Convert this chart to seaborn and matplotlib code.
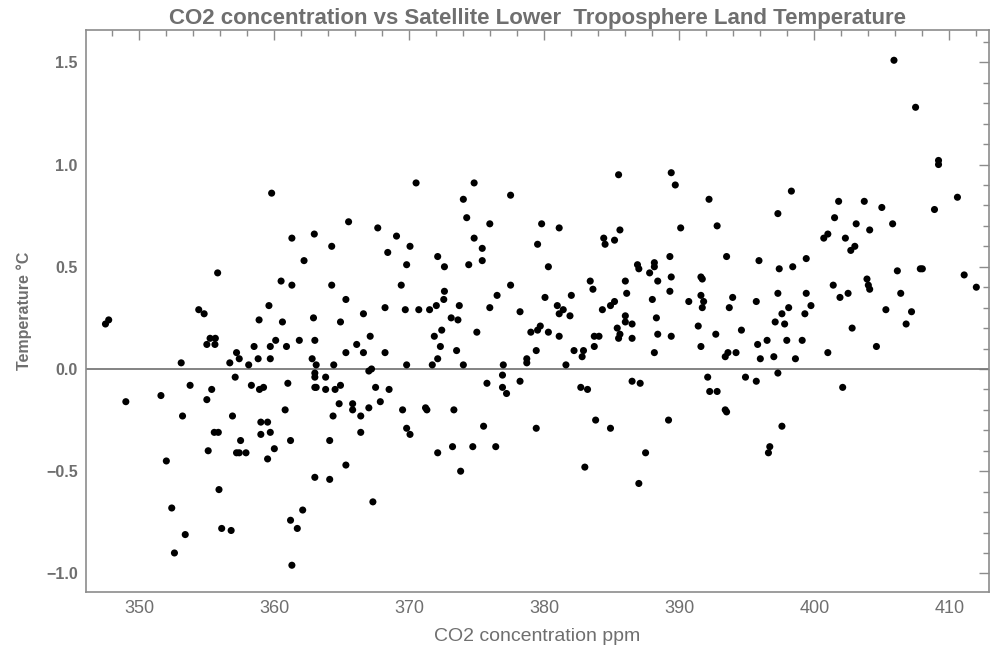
import matplotlib
matplotlib.use("Agg")
import matplotlib.pyplot as plt
import seaborn as sns
import pandas as pd
from matplotlib.ticker import MultipleLocator

# Monthly CO2 concentration (ppm) against lower-troposphere land temperature anomaly (°C)
co2_ppm = [
    359.8, 365.5, 370.5, 374.8, 374.0, 377.5, 374.25, 385.5, 389.4, 389.7,
    405.9, 407.5, 409.2, 409.2, 392.2, 398.3, 397.3, 401.8, 403.7, 401.5,
    405.0, 408.9, 410.6,
    347.49, 347.73, 349.0, 351.6, 353.1, 353.76, 354.4, 354.8, 355.0, 355.24,
    355.63, 355.6, 355.0, 355.36, 355.8, 356.7, 357.1, 357.2, 357.4, 358.1,
    358.3, 358.5, 358.8, 358.87, 358.9, 359.2, 359.6, 359.7, 359.7, 360.1,
    360.5, 360.6, 360.8, 360.9, 361.0, 361.3, 361.3, 361.85, 362.2, 362.8,
    362.9, 362.96, 363.0, 363.1, 363.0, 363.0, 363.0, 363.1, 363.8, 363.8,
    364.25, 364.25, 364.4, 364.5, 364.8, 364.9, 364.9, 365.3, 365.3, 365.8,
    365.8, 366.1, 366.6, 366.6, 367.0, 367.2, 367.1, 367.0, 367.66, 367.85,
    367.5, 368.2, 368.2, 368.4, 368.5,
    369.05, 370.05, 369.8, 369.4, 369.7, 370.7, 371.5, 372.0, 372.1, 372.6,
    372.6, 372.55, 373.7, 373.1, 373.6, 372.4, 371.85, 372.3, 373.5, 372.1,
    371.7, 369.8, 374.0, 375.96, 374.8, 375.4, 375.4, 374.4, 377.5, 376.5,
    375.96, 378.2, 375.0, 376.96, 376.9, 375.75, 376.9, 377.2, 378.2, 378.7,
    378.7, 369.5, 371.2, 371.3, 373.3, 379.8, 381.1, 379.5, 380.3, 380.05,
    380.96, 381.4, 381.1, 381.9, 382.0, 379.0, 379.5, 379.7, 380.3, 381.1,
    379.4, 381.6, 382.2, 382.9, 382.8, 382.7, 383.2, 383.4, 383.6, 384.3,
    383.7, 384.05, 383.7, 384.4, 384.5, 385.2, 385.6, 384.9, 385.2, 386.0,
    386.1, 386.0, 386.0, 385.4, 385.6, 385.5, 386.5, 386.5, 386.9, 387.0,
    388.15, 388.15, 387.8, 388.4, 388.0, 388.3, 388.4, 388.15, 389.3, 389.4,
    389.3, 389.4, 390.1, 386.5, 387.1,
    390.7, 392.8, 393.5, 395.9, 391.6, 391.7, 391.6, 391.8, 391.7, 391.4,
    391.6, 392.7, 393.95, 393.7, 394.6, 393.4, 393.6, 394.2, 395.7, 395.8,
    396.0, 396.5, 397.0, 397.1, 397.3, 397.4, 397.3, 397.6, 397.8, 398.1,
    397.96, 398.4, 398.6, 399.1, 399.3, 399.4, 399.75, 399.4, 400.7, 401.0,
    401.4, 401.0, 401.9, 402.5, 402.3, 403.0, 402.7, 403.1, 404.1, 405.8,
    402.8, 402.1, 403.9, 404.0, 404.1, 404.6, 405.3, 406.15, 406.4, 406.8,
    407.2, 407.85, 408.0, 411.1, 412.0, 392.1, 392.25, 392.8, 394.9, 395.7,
    393.4, 393.5,
    353.2, 352.0, 352.4, 353.4, 352.6, 355.1, 355.55, 355.85, 356.9, 357.5,
    357.2, 357.4, 357.9, 355.9, 356.1, 356.8, 359.0, 359.5, 359.0, 359.7,
    360.0, 359.5, 361.2, 361.2, 361.7, 362.1, 361.3, 363.0, 364.1, 364.1,
    364.35, 365.3, 366.4, 366.4, 367.3,
    369.8, 370.05, 372.1, 373.2, 373.8, 374.7, 375.5, 376.4, 379.4, 383.0,
    383.8, 384.9, 387.0, 387.5, 389.2, 397.6, 396.7, 396.6,
]

temp_c = [
    0.86, 0.72, 0.91, 0.91, 0.83, 0.85, 0.74, 0.95, 0.96, 0.90,
    1.51, 1.28, 1.02, 1.00, 0.83, 0.87, 0.76, 0.82, 0.82, 0.74,
    0.79, 0.78, 0.84,
    0.22, 0.24, -0.16, -0.13, 0.03, -0.08, 0.29, 0.27, 0.12, 0.15,
    0.15, 0.12, -0.15, -0.10, 0.47, 0.03, -0.04, 0.08, 0.05, 0.02,
    -0.08, 0.11, 0.05, 0.24, -0.10, -0.09, 0.31, 0.11, 0.05, 0.14,
    0.43, 0.23, -0.20, 0.11, -0.07, 0.64, 0.41, 0.14, 0.53, 0.05,
    0.25, 0.66, 0.14, 0.02, -0.02, -0.04, -0.09, -0.09, -0.04, -0.10,
    0.60, 0.41, 0.02, -0.10, -0.17, 0.23, -0.08, 0.08, 0.34, -0.17,
    -0.20, 0.12, 0.27, 0.08, -0.01, 0.00, 0.16, -0.19, 0.69, -0.16,
    -0.09, 0.30, 0.08, 0.57, -0.10,
    0.65, 0.60, 0.51, 0.41, 0.29, 0.29, 0.29, 0.31, 0.55, 0.50,
    0.38, 0.34, 0.31, 0.25, 0.24, 0.19, 0.16, 0.11, 0.09, 0.05,
    0.02, 0.02, 0.02, 0.71, 0.64, 0.59, 0.53, 0.51, 0.41, 0.36,
    0.30, 0.28, 0.18, 0.02, -0.03, -0.07, -0.09, -0.12, -0.06, 0.05,
    0.03, -0.20, -0.19, -0.20, -0.20, 0.71, 0.69, 0.61, 0.50, 0.35,
    0.31, 0.29, 0.27, 0.26, 0.36, 0.18, 0.19, 0.21, 0.18, 0.16,
    0.09, 0.02, 0.09, 0.09, 0.06, -0.09, -0.10, 0.43, 0.39, 0.29,
    0.16, 0.16, 0.11, 0.64, 0.61, 0.63, 0.68, 0.31, 0.33, 0.43,
    0.37, 0.26, 0.23, 0.20, 0.17, 0.15, 0.22, 0.15, 0.51, 0.49,
    0.52, 0.50, 0.47, 0.43, 0.34, 0.25, 0.17, 0.08, 0.55, 0.45,
    0.38, 0.16, 0.69, -0.06, -0.07,
    0.33, 0.70, 0.55, 0.53, 0.45, 0.44, 0.36, 0.33, 0.30, 0.21,
    0.11, 0.17, 0.35, 0.30, 0.19, 0.06, 0.08, 0.08, 0.33, 0.12,
    0.05, 0.14, 0.06, 0.23, 0.37, 0.49, -0.02, 0.27, 0.22, 0.30,
    0.14, 0.50, 0.05, 0.14, 0.27, 0.37, 0.31, 0.54, 0.64, 0.66,
    0.41, 0.08, 0.35, 0.37, 0.64, 0.60, 0.58, 0.71, 0.68, 0.71,
    0.20, -0.09, 0.44, 0.41, 0.39, 0.11, 0.29, 0.48, 0.37, 0.22,
    0.28, 0.49, 0.49, 0.46, 0.40, -0.04, -0.11, -0.11, -0.04, -0.06,
    -0.20, -0.21,
    -0.23, -0.45, -0.68, -0.81, -0.90, -0.40, -0.31, -0.31, -0.23, -0.35,
    -0.41, -0.41, -0.41, -0.59, -0.78, -0.79, -0.26, -0.26, -0.32, -0.31,
    -0.39, -0.44, -0.35, -0.74, -0.78, -0.69, -0.96, -0.53, -0.35, -0.54,
    -0.23, -0.47, -0.23, -0.31, -0.65,
    -0.29, -0.32, -0.41, -0.38, -0.50, -0.38, -0.28, -0.38, -0.29, -0.48,
    -0.25, -0.29, -0.56, -0.41, -0.25, -0.28, -0.38, -0.41,
]

x_major = [350, 360, 370, 380, 390, 400, 410]
y_major = [-1.0, -0.5, 0.0, 0.5, 1.0, 1.5]

sns.set_style("white")
plt.rcParams["font.family"] = ["Liberation Sans", "DejaVu Sans"]
plt.rcParams["axes.unicode_minus"] = True

frame_col = "#8c8c8c"
text_col = "#6f6f6f"

fig = plt.figure(figsize=(9.91, 6.51), dpi=100)
ax = fig.add_axes([0.0868, 0.0906, 0.9112, 0.8633])

df = pd.DataFrame({"co2": co2_ppm, "temp": temp_c})

ax.axhline(0, color="#7a7a7a", lw=1.3, zorder=1)
sns.scatterplot(data=df, x="co2", y="temp", color="black", s=26,
                linewidth=0, edgecolor="none", ax=ax, zorder=3, legend=False)

ax.set_xlim(346.05, 412.94)
ax.set_ylim(-1.091, 1.658)

ax.set_xticks(x_major)
ax.set_yticks(y_major)
ax.xaxis.set_minor_locator(MultipleLocator(2))
ax.yaxis.set_minor_locator(MultipleLocator(0.1))
ax.set_xticklabels([str(v) for v in x_major], fontsize=13, color=text_col)
ax.set_yticklabels([f"{v:.1f}".replace("-", "\u2212") for v in y_major],
                   fontsize=11.5, fontweight="bold", color=text_col)

ax.tick_params(which="both", direction="in", top=True, right=True,
               labeltop=False, labelright=False, color=frame_col, width=1)
ax.tick_params(which="major", length=7, pad=6)
ax.tick_params(which="minor", length=4)

for sp in ax.spines.values():
    sp.set_color(frame_col)
    sp.set_linewidth(1.2)

ax.set_xlabel("CO2 concentration ppm", fontsize=14, color=text_col, labelpad=8)
ax.set_ylabel("Temperature \u00b0C", fontsize=11.5, fontweight="bold",
              color=text_col, labelpad=10)
ax.set_title("CO2 concentration vs Satellite Lower  Troposphere Land Temperature",
             fontsize=16, fontweight="bold", color=text_col, pad=4)

fig.savefig("out.png", dpi=100)
